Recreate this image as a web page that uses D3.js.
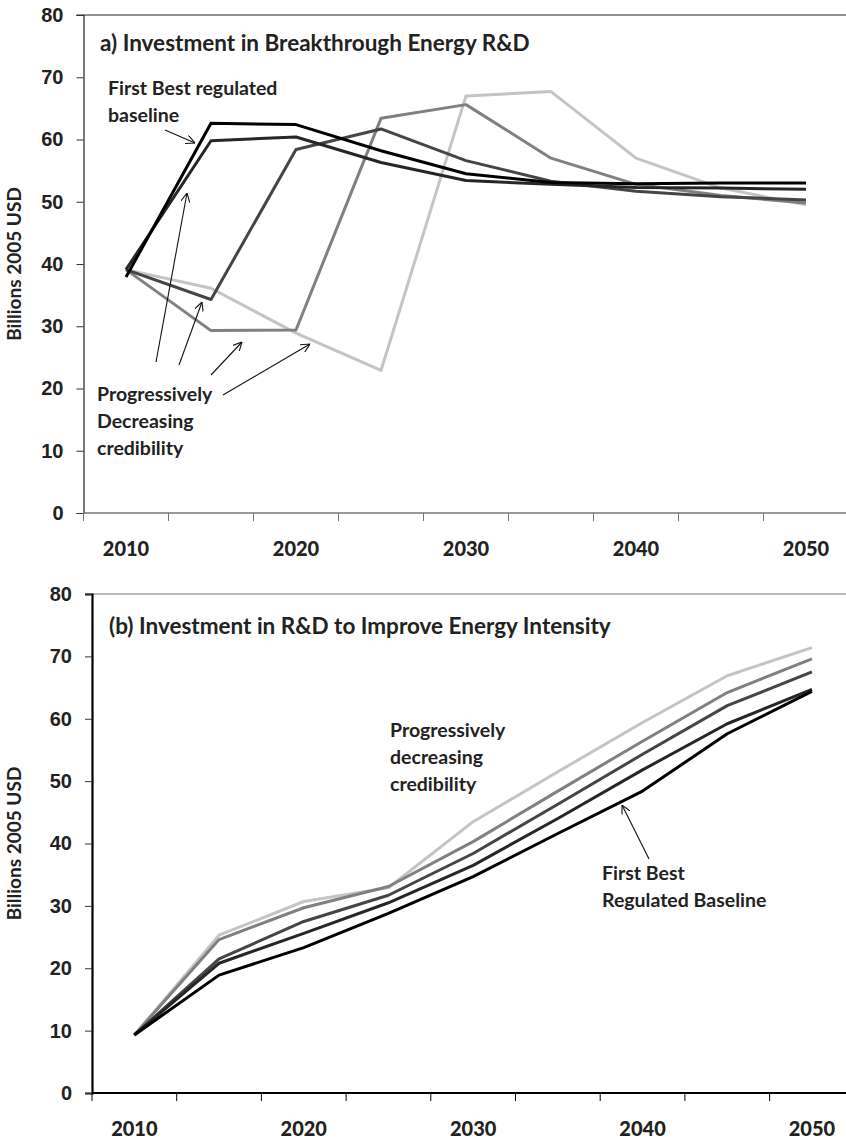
<!DOCTYPE html>
<html>
<head>
<meta charset="utf-8">
<script src="https://cdn.jsdelivr.net/npm/d3@7"></script>
<style>
  html, body { margin: 0; padding: 0; background: #fff; }
  svg { display: block; font-family: Lato, "Open Sans", sans-serif; }
  text { font-weight: 700; fill: #222; }
</style>
</head>
<body>
<svg id="chart" width="846" height="1140"></svg>
<script>
// Category axis: 5-year steps, one spare slot after 2050
const categories = [2010, 2015, 2020, 2025, 2030, 2035, 2040, 2045, 2050, 2055];
const years = [2010, 2015, 2020, 2025, 2030, 2035, 2040, 2045, 2050];
const yearLabels = [2010, 2020, 2030, 2040, 2050];
const yTicks = [0, 10, 20, 30, 40, 50, 60, 70, 80];
const seriesColors = ["#000000", "#262626", "#454545", "#808080", "#c4c4c4"];

// (a) Breakthrough energy R&D, billions 2005 USD
const breakFirstBest = [37.9, 62.6, 62.4, 58.2, 54.5, 53.1, 52.9, 53.0, 53.0];
const breakCred1     = [39.1, 59.8, 60.4, 56.3, 53.4, 52.8, 52.3, 52.2, 52.0];
const breakCred2     = [39.1, 34.3, 58.4, 61.7, 56.6, 53.3, 51.7, 50.8, 50.3];
const breakCred3     = [39.1, 29.3, 29.4, 63.4, 65.6, 57.0, 52.8, 51.0, 49.8];
const breakCred4     = [39.1, 36.1, 28.9, 22.9, 67.0, 67.7, 57.0, 52.2, 49.5];

// (b) R&D to improve energy intensity, billions 2005 USD
const intenFirstBest = [9.3, 18.9, 23.3, 28.8, 34.7, 41.6, 48.4, 57.6, 64.4];
const intenCred1     = [9.3, 20.8, 25.6, 30.5, 36.5, 44.0, 51.8, 59.2, 64.7];
const intenCred2     = [9.3, 21.5, 27.5, 31.7, 38.4, 46.3, 54.3, 62.1, 67.5];
const intenCred3     = [9.3, 24.6, 29.7, 33.1, 40.3, 48.4, 56.4, 64.2, 69.6];
const intenCred4     = [9.3, 25.3, 30.7, 32.9, 43.5, 51.5, 59.4, 66.9, 71.4];

const svg = d3.select("#chart");
const defs = svg.append("defs");
defs.append("marker")
  .attr("id", "arrowhead")
  .attr("viewBox", "0 0 10 10")
  .attr("refX", 10).attr("refY", 5)
  .attr("markerWidth", 9).attr("markerHeight", 9)
  .attr("markerUnits", "userSpaceOnUse")
  .attr("orient", "auto")
  .append("path")
  .attr("d", "M0,0 L10,5 L0,10")
  .attr("fill", "none").attr("stroke", "#111").attr("stroke-width", 1.2);

function drawPanel(cfg) {
  const g = svg.append("g");
  const x = d3.scaleBand().domain(categories).range([cfg.left, cfg.left + cfg.band * categories.length]).padding(0);
  const y = d3.scaleLinear().domain([0, 80]).range([cfg.bottom, cfg.top]);

  // top frame line at 80
  g.append("line")
    .attr("x1", cfg.left - 7).attr("x2", 846)
    .attr("y1", y(80)).attr("y2", y(80))
    .attr("stroke", cfg.topColor).attr("stroke-width", 1.2);

  // y axis
  const yAxis = g.append("g")
    .attr("transform", `translate(${cfg.left},0)`)
    .call(d3.axisLeft(y).tickValues(yTicks).tickSize(7).tickPadding(cfg.yPad));
  yAxis.select(".domain").attr("stroke", cfg.yAxisColor).attr("stroke-width", cfg.yAxisWidth);
  yAxis.selectAll(".tick line").attr("stroke", "#333").attr("stroke-width", 1);
  yAxis.selectAll(".tick text")
    .style("font-size", "20px").style("font-weight", 900).attr("fill", "#222");

  // x axis: ticks between categories, labels every other category
  const edges = categories.map(c => x(c));
  const xAxisG = g.append("g").attr("transform", `translate(0,${cfg.bottom})`);
  xAxisG.append("line")
    .attr("x1", cfg.left).attr("x2", 846).attr("y1", 0).attr("y2", 0)
    .attr("stroke", cfg.xAxisColor).attr("stroke-width", cfg.xAxisWidth);
  xAxisG.selectAll("line.tk").data(edges).join("line")
    .attr("class", "tk")
    .attr("x1", d => d).attr("x2", d => d)
    .attr("y1", 0).attr("y2", 8)
    .attr("stroke", cfg.xAxisColor).attr("stroke-width", 1);
  xAxisG.selectAll("text.yl").data(yearLabels).join("text")
    .attr("class", "yl")
    .attr("x", d => x(d) + x.bandwidth() / 2)
    .attr("y", 43)
    .attr("text-anchor", "middle")
    .style("font-size", "20px").style("font-weight", 900)
    .text(d => d);

  // y axis title
  g.append("text")
    .attr("transform", `translate(${cfg.titleX},${(cfg.top + cfg.bottom) / 2}) rotate(-90)`)
    .attr("text-anchor", "middle")
    .style("font-size", "19px")
    .text("Billions 2005  USD");

  // series lines, lightest first so darker ones sit on top
  const line = d3.line()
    .x((d, i) => x(years[i]) + x.bandwidth() / 2)
    .y(d => y(d));
  cfg.series.map((s, i) => ({ s, i })).reverse().forEach(({ s, i }) => {
    g.append("path")
      .datum(s)
      .attr("d", line)
      .attr("fill", "none")
      .attr("stroke", seriesColors[i])
      .attr("stroke-width", 3)
      .attr("stroke-linejoin", "round");
  });

  // panel title
  g.append("text")
    .attr("x", cfg.titlePos[0]).attr("y", cfg.titlePos[1])
    .style("font-size", "22.5px")
    .text(cfg.title);

  return g;
}

function label(g, xPos, yPos, lines, size) {
  const t = g.append("text").attr("x", xPos).attr("y", yPos).style("font-size", size + "px");
  lines.forEach((l, i) => t.append("tspan").attr("x", xPos).attr("dy", i === 0 ? 0 : 27).text(l));
}

function arrow(g, x1, y1, x2, y2) {
  g.append("line")
    .attr("x1", x1).attr("y1", y1).attr("x2", x2).attr("y2", y2)
    .attr("stroke", "#111").attr("stroke-width", 1.1)
    .attr("marker-end", "url(#arrowhead)");
}

// Panel (a)
const gA = drawPanel({
  left: 83.5, band: 85, top: 15, bottom: 513,
  topColor: "#222", yAxisColor: "#222", yAxisWidth: 1.2,
  xAxisColor: "#777", xAxisWidth: 1.5, yPad: 13, titleX: 21,
  series: [breakFirstBest, breakCred1, breakCred2, breakCred3, breakCred4],
  title: "a) Investment in Breakthrough Energy R&D",
  titlePos: [100, 51]
});
label(gA, 108, 95, ["First Best regulated", "baseline"], 19.5);
label(gA, 97, 401, ["Progressively", "Decreasing", "credibility"], 19.5);
arrow(gA, 165, 130, 195, 143);
arrow(gA, 156, 362, 187, 193);
arrow(gA, 179, 365, 202, 302);
arrow(gA, 211, 375, 242, 342);
arrow(gA, 223, 395, 310, 344);

// Panel (b)
const gB = drawPanel({
  left: 92, band: 84.7, top: 594, bottom: 1093,
  topColor: "#777", yAxisColor: "#000", yAxisWidth: 2.2,
  xAxisColor: "#000", xAxisWidth: 2, yPad: 13, titleX: 21,
  series: [intenFirstBest, intenCred1, intenCred2, intenCred3, intenCred4],
  title: "(b) Investment in R&D to Improve Energy Intensity",
  titlePos: [109, 634]
});
label(gB, 390, 737, ["Progressively", "decreasing", "credibility"], 19.5);
label(gB, 602, 880, ["First Best", "Regulated Baseline"], 19.5);
arrow(gB, 649, 859, 622, 805);
</script>
</body>
</html>
